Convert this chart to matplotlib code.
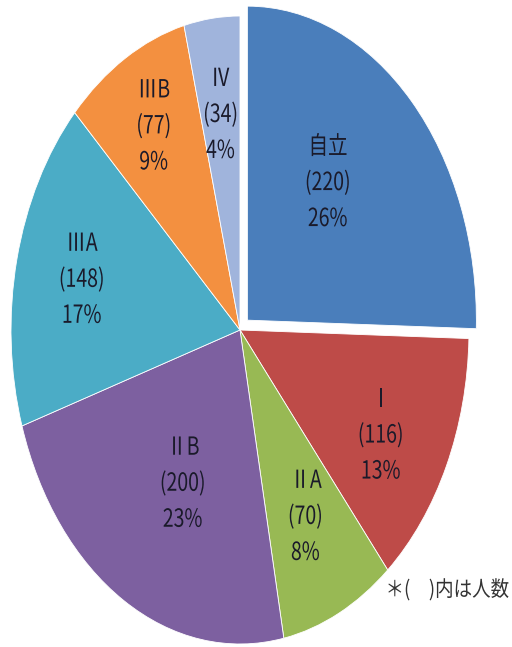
import matplotlib.pyplot as plt
import numpy as np
from matplotlib import patheffects
from matplotlib.transforms import Affine2D

# data (clockwise from 12 o'clock)
categories = ["自立", "Ⅰ", "ⅡA", "ⅡB", "ⅢA", "ⅢB", "Ⅳ"]
counts = [220, 116, 70, 200, 148, 77, 34]
percents = ["26%", "13%", "8%", "23%", "17%", "9%", "4%"]

colors = ["#4A7EBB", "#BE4B48", "#98B954", "#7D60A0", "#4BACC6", "#F39040", "#A0B4DC"]
explode = [0.045, 0, 0, 0, 0, 0, 0]
# label placement: distance from centre (unit radius) and angle tweak (deg)
label_r = [0.56, 0.70, 0.66, 0.55, 0.71, 0.75, 0.69]
label_dang = [7, -3, 0, 3.5, 0, 0, 0]


class Narrow(patheffects.AbstractPathEffect):
    """Squeeze text horizontally (the original uses a condensed font)."""

    def __init__(self, sx=0.78, anchor="center"):
        super().__init__()
        self.sx = sx
        self.anchor = anchor

    def draw_path(self, renderer, gc, tpath, affine, rgbFace=None):
        bb = tpath.get_extents(affine)
        if self.anchor == "left":
            x0 = bb.x0
        elif self.anchor == "right":
            x0 = bb.x1
        else:
            x0 = (bb.x0 + bb.x1) / 2
        squeeze = Affine2D().translate(-x0, 0).scale(self.sx, 1).translate(x0, 0)
        renderer.draw_path(gc, tpath, affine + squeeze, rgbFace)


plt.rcParams["font.family"] = ["Noto Sans CJK JP", "DejaVu Sans"]

W, H = 512, 647
cx, cy, rx, ry = 240, 330, 229, 314

fig = plt.figure(figsize=(W / 100, H / 100), dpi=100)
ax = fig.add_axes([0, 0, 1, 1])
wedges, _ = ax.pie(counts, colors=colors, explode=explode, startangle=90,
                   counterclock=False, radius=1,
                   wedgeprops=dict(edgecolor="white", linewidth=0.6))
ax.set_aspect("auto")
ax.set_xlim(-cx / rx, (W - cx) / rx)
ax.set_ylim(-(H - cy) / ry, cy / ry)
ax.axis("off")

for w, cat, n, pct, r, da in zip(wedges, categories, counts, percents,
                                 label_r, label_dang):
    th = np.deg2rad((w.theta1 + w.theta2) / 2 + da)
    x0, y0 = w.center
    ax.text(x0 + r * np.cos(th), y0 + r * np.sin(th), f"{cat}\n({n})\n{pct}",
            ha="center", va="center", fontsize=18, linespacing=1.5,
            color="#1a1a2a", path_effects=[Narrow(0.78)])

fig.text(509 / W, 1 - 590 / H, "＊(　)内は人数", ha="right", va="center",
         fontsize=15.5, color="#333333", path_effects=[Narrow(0.86, "right")])

fig.savefig("out.png", dpi=100)
